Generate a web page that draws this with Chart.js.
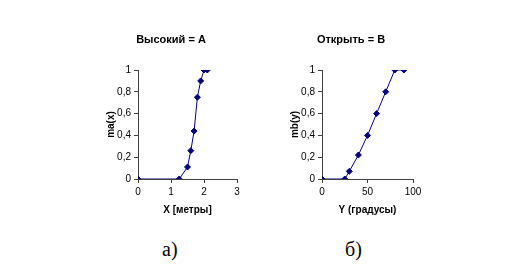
<!DOCTYPE html>
<html>
<head>
<meta charset="utf-8">
<script src="https://cdn.jsdelivr.net/npm/chart.js@4.4.1/dist/chart.umd.min.js"></script>
<style>
  body { margin: 0; background: #fff; width: 505px; height: 267px; position: relative; overflow: hidden; }
  .box { position: absolute; }
  .cap { position: absolute; font-family: "Liberation Serif", serif; font-size: 20px; color: #000; }
</style>
</head>
<body>
<div class="box" style="left:95px; top:30px;"><canvas id="chartA" width="150" height="190"></canvas></div>
<div class="box" style="left:277px; top:30px;"><canvas id="chartB" width="150" height="190"></canvas></div>
<div class="cap" style="left:162px; top:238px;">а)</div>
<div class="cap" style="left:345px; top:238px;">б)</div>
<script>
// chart a: height in metres -> membership
const heightX = [0, 1.25, 1.5, 1.6, 1.7, 1.8, 1.9, 2.0, 2.1];
const heightMu = [0, 0, 0.11, 0.26, 0.44, 0.75, 0.9, 1, 1];
// chart b: angle in degrees -> membership
const angleY = [0, 25, 30, 40, 50, 60, 70, 80, 90];
const angleMu = [0, 0, 0.07, 0.22, 0.4, 0.6, 0.8, 1, 1];

const yTicks = [0, 0.2, 0.4, 0.6, 0.8, 1];
const xTicksA = [0, 1, 2, 3];
const xTicksB = [0, 50, 100];

const navy = '#000080';
const axisColor = '#404040';

function makeChart(id, xs, ys, xTicks, title, xTitle, yTitle, padLeft, padRight) {
    const points = xs.map((x, i) => ({ x: x, y: ys[i] }));
    return new Chart(document.getElementById(id), {
        type: 'scatter',
        data: {
            datasets: [{
                data: points,
                showLine: true,
                borderColor: navy,
                backgroundColor: navy,
                borderWidth: 1,
                pointStyle: 'rectRot',
                pointRadius: 3,
                pointHoverRadius: 3
            }]
        },
        options: {
            responsive: false,
            animation: false,
            layout: { padding: { left: padLeft, right: padRight, top: 0, bottom: 4 } },
            plugins: {
                legend: { display: false },
                tooltip: { enabled: false },
                title: {
                    display: true,
                    text: title,
                    color: '#000',
                    font: { family: 'Liberation Sans', size: 11, weight: 'bold', lineHeight: 1.2 },
                    padding: { top: 3, bottom: 23.8 }
                }
            },
            scales: {
                x: {
                    type: 'linear',
                    min: xTicks[0],
                    max: xTicks[xTicks.length - 1],
                    afterBuildTicks: s => { s.ticks = xTicks.map(v => ({ value: v })); },
                    afterFit: s => { s.height = 37; },
                    grid: { drawOnChartArea: false, drawTicks: true, tickLength: 4, color: axisColor },
                    border: { color: axisColor },
                    ticks: { color: '#000', padding: 3, maxRotation: 0, font: { family: 'Liberation Sans', size: 10 } },
                    title: { display: true, text: xTitle, color: '#000', padding: 0,
                             font: { family: 'Liberation Sans', size: 10, weight: 'bold', lineHeight: 1.2 } }
                },
                y: {
                    type: 'linear',
                    min: 0,
                    max: 1,
                    afterBuildTicks: s => { s.ticks = yTicks.map(v => ({ value: v })); },
                    afterFit: s => { s.width = 33; },
                    grid: { drawOnChartArea: false, drawTicks: true, tickLength: 4, color: axisColor },
                    border: { color: axisColor },
                    ticks: {
                        color: '#000', padding: 3,
                        font: { family: 'Liberation Sans', size: 10 },
                        callback: v => String(Math.round(v * 10) / 10).replace('.', ',')
                    },
                    title: { display: true, text: yTitle, color: '#000', padding: 0,
                             font: { family: 'Liberation Sans', size: 10, weight: 'bold', lineHeight: 1.2 } }
                }
            }
        }
    });
}

makeChart('chartA', heightX, heightMu, xTicksA, 'Высокий = A', 'X [метры]', 'ma(x)', 10, 8);
makeChart('chartB', angleY, angleMu, xTicksB, 'Открыть = B', 'Y (градусы)', 'mb(y)', 12, 14);
</script>
</body>
</html>
